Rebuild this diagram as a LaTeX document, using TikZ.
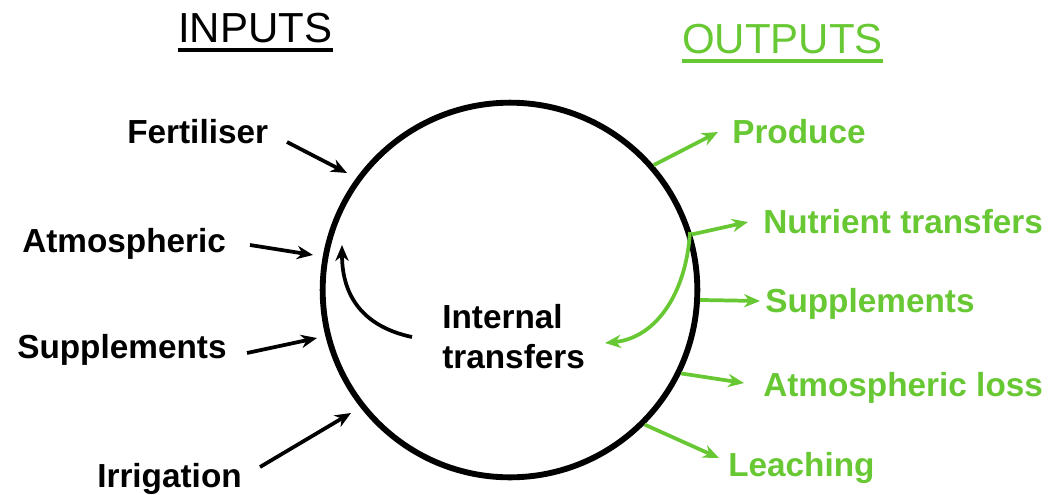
\documentclass[tikz,border=0pt]{standalone}
\usepackage{fontspec}
\setmainfont{Liberation Sans}
\usetikzlibrary{arrows.meta}
\definecolor{outgreen}{RGB}{104,200,52}
\begin{document}
\begin{tikzpicture}[x=0.75pt,y=-0.75pt,
  lbl/.style={font=\fontsize{25}{30}\selectfont\bfseries, inner sep=0pt, anchor=base west},
  hdr/.style={font=\fontsize{31.5}{36}\selectfont, inner sep=0pt, anchor=base west},
  inarr/.style={line width=2.8pt, -{Stealth[length=12pt,width=10pt]}},
  outarr/.style={outgreen, line width=2.8pt, -{Stealth[length=12pt,width=10pt]}},
  uline/.style={line width=2.6pt}
]
\useasboundingbox (0,0) rectangle (1056,494);
% the system circle
\node[circle, draw, line width=4.4pt, minimum size=281pt, inner sep=0pt] (c) at (510,290) {};
% headers
\node[hdr] (inputs) at (178,42) {INPUTS};
\draw[uline] ([yshift=-6pt]inputs.base west) -- ([yshift=-6pt]inputs.base east);
\node[hdr, text=outgreen] (outputs) at (682,53) {OUTPUTS};
\draw[uline, outgreen] ([yshift=-6pt]outputs.base west) -- ([yshift=-6pt]outputs.base east);
% input labels
\node[lbl] (fert) at (127,143) {Fertiliser};
\node[lbl] (atm) at (22,252) {Atmospheric};
\node[lbl] (supin) at (17,358) {Supplements};
\node[lbl] (irr) at (97,487) {Irrigation};
% output labels
\node[lbl, text=outgreen] (prod) at (732,143) {Produce};
\node[lbl, text=outgreen] (nut) at (763,233) {Nutrient transfers};
\node[lbl, text=outgreen] (supout) at (765,312) {Supplements};
\node[lbl, text=outgreen] (atmloss) at (763,396) {Atmospheric loss};
\node[lbl, text=outgreen] (leach) at (728,476) {Leaching};
% internal
\node[lbl, anchor=north west, align=left] (int) at (442,304) {Internal\\transfers};
% connector end points
\coordinate (fert-from) at (287,142);
\coordinate (fert-to) at (347,173);
\coordinate (atm-from) at (250,245);
\coordinate (atm-to) at (313,255);
\coordinate (supin-from) at (247,353);
\coordinate (supin-to) at (317,338);
\coordinate (irr-from) at (260,467);
\coordinate (irr-to) at (351,413);
\coordinate (int-from) at (412,337);
\coordinate (int-to) at (342,245);
\coordinate (prod-to) at (718,132);
\coordinate (nut-to) at (748,222);
\coordinate (supout-to) at (760,301);
\coordinate (atmloss-to) at (744,383);
\coordinate (leach-to) at (719,458);
\coordinate (nut-in) at (690,232);
\coordinate (back-to) at (605,343);
% inputs
\draw[inarr] (fert-from) -- (fert-to);
\draw[inarr] (atm-from) -- (atm-to);
\draw[inarr] (supin-from) -- (supin-to);
\draw[inarr] (irr-from) -- (irr-to);
\draw[inarr] (int-from) .. controls (365,327) and (342,298) .. (int-to);
% outputs
\draw[outarr] (c.41) -- (prod-to);
\draw[outarr] (c.17) -- (nut-to);
\draw[outarr] (c.-3) -- (supout-to);
\draw[outarr] (c.-26) -- (atmloss-to);
\draw[outarr] (c.-45) -- (leach-to);
\draw[outarr] (nut-in) .. controls (686,295) and (655,338) .. (back-to);
\end{tikzpicture}
\end{document}
